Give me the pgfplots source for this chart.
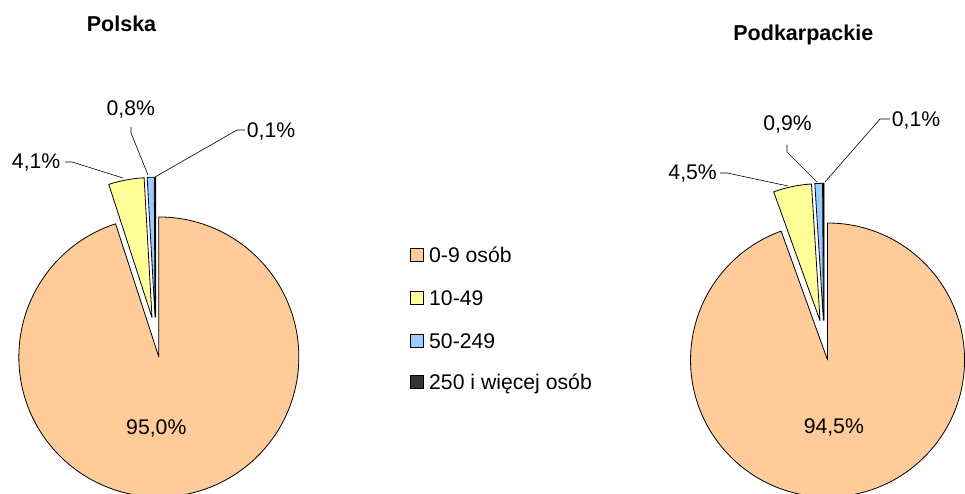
\documentclass[border=0pt]{standalone}
\usepackage{pgfplots}
\pgfplotsset{compat=1.18}
\usepackage{pgfplotstable}
\usepackage{fontspec}
\setmainfont{Liberation Sans}

\definecolor{slice0}{HTML}{FFCC99}
\definecolor{slice1}{HTML}{FFFF99}
\definecolor{slice2}{HTML}{99CCFF}
\definecolor{slice3}{HTML}{333333}

% shares of enterprises by size class (percent)
\pgfplotstableread{
kat polska podk
0   95.0   94.5
1   4.1    4.5
2   0.8    0.9
3   0.1    0.1
}\shares

% #1 table, #2 column, #3 cx, #4 cy, #5 radius, #6 explosion
\newcommand\drawpie[6]{%
  \gdef\cum{0}%
  \pgfplotstableforeachcolumnelement{#2}\of#1\as\val{%
    \pgfmathsetmacro\tA{90-3.6*\cum}%
    \pgfmathsetmacro\tB{90-3.6*(\cum+\val)}%
    \pgfmathsetmacro\tM{(\tA+\tB)/2}%
    \pgfmathsetmacro\px{#3+#6*cos(\tM)}%
    \pgfmathsetmacro\py{#4+#6*sin(\tM)}%
    \pgfmathsetmacro\newcum{\cum+\val}\xdef\cum{\newcum}%
    \edef\slicecmd{\noexpand\fill[fill=slice\pgfplotstablerow, draw=black, line width=0.8bp, line join=round] (axis cs:\px,\py) -- ++(\tA:#5bp) arc[start angle=\tA, end angle=\tB, radius=#5bp] -- cycle;}%
    \slicecmd
  }%
}

\tikzset{
  lbl/.style={font=\fontsize{21.2bp}{25bp}\selectfont, inner sep=0pt},
  ttl/.style={font=\fontsize{21.5bp}{25bp}\selectfont\bfseries, inner sep=0pt},
}

\begin{document}
\begin{tikzpicture}
\useasboundingbox (0,0) rectangle (965bp,494bp);
\begin{axis}[
  at={(0,0)}, anchor=south west,
  width=965bp, height=494bp, scale only axis,
  xmin=0, xmax=965, ymin=0, ymax=494,
  enlargelimits=false, hide axis, clip=true,
]
% pies
\drawpie{\shares}{polska}{155.7}{156.8}{140}{20}
\drawpie{\shares}{podk}{824.1}{153.7}{137}{20}

% leader lines
\addplot[black, line width=0.6bp] coordinates {(65,332) (72,332) (123,316)};
\addplot[black, line width=0.6bp] coordinates {(131,367) (131,361) (148,319)};
\addplot[black, line width=0.6bp] coordinates {(245,364) (237,364) (155,317)};
\addplot[black, line width=0.6bp] coordinates {(720,321) (727,321) (788,308)};
\addplot[black, line width=0.6bp] coordinates {(787,349) (787,342) (817,312)};
\addplot[black, line width=0.6bp] coordinates {(890,375) (880,375) (825,312)};

% data labels
\node[lbl, anchor=base east] at (axis cs:60.5,325) {4,1\%};
\node[lbl, anchor=base] at (axis cs:130.8,378.7) {0,8\%};
\node[lbl, anchor=base west] at (axis cs:246.7,356.7) {0,1\%};
\node[lbl, anchor=base] at (axis cs:156.3,59.2) {95,0\%};

\node[lbl, anchor=base east] at (axis cs:717,314) {4,5\%};
\node[lbl, anchor=base] at (axis cs:787.5,363.4) {0,9\%};
\node[lbl, anchor=base west] at (axis cs:891.7,367.4) {0,1\%};
\node[lbl, anchor=base] at (axis cs:833.8,60.9) {94,5\%};

% titles
\node[ttl, anchor=base] at (axis cs:121.5,462.3) {Polska};
\node[ttl, anchor=base] at (axis cs:803.3,453.3) {Podkarpackie};

% legend
\draw[fill=slice0, draw=black, line width=0.6bp] (axis cs:410,232.2) rectangle (axis cs:423,245.2);
\draw[fill=slice1, draw=black, line width=0.6bp] (axis cs:410,189.7) rectangle (axis cs:423,202.7);
\draw[fill=slice2, draw=black, line width=0.6bp] (axis cs:410,146.7) rectangle (axis cs:423,159.7);
\draw[fill=slice3, draw=black, line width=0.6bp] (axis cs:410,105.5) rectangle (axis cs:423,118.5);
\node[lbl, anchor=base west] at (axis cs:429,231.4) {0-9 osób};
\node[lbl, anchor=base west] at (axis cs:429,188.9) {10-49};
\node[lbl, anchor=base west] at (axis cs:429,145.9) {50-249};
\node[lbl, anchor=base west] at (axis cs:429,104.7) {250 i więcej osób};
\end{axis}
\end{tikzpicture}
\end{document}
